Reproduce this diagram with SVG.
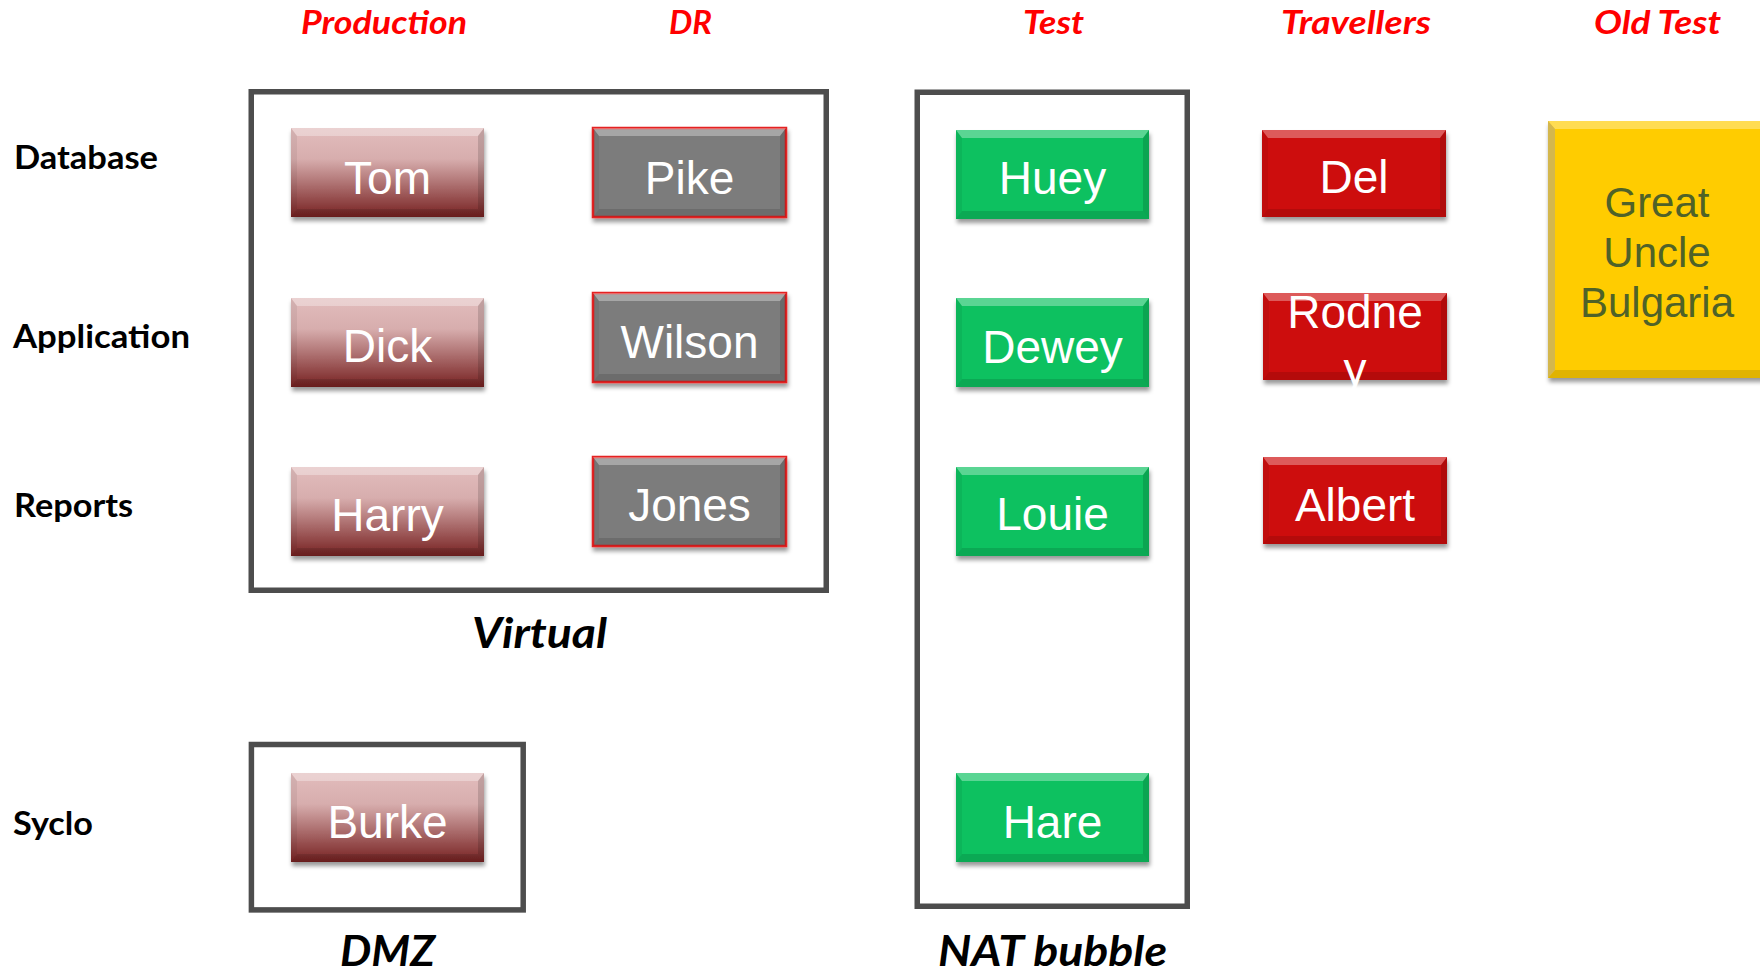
<svg xmlns="http://www.w3.org/2000/svg" xmlns:xlink="http://www.w3.org/1999/xlink" width="1760" height="973" viewBox="0 0 1760 973">
<style>
.hdr{font-family:Lato,"Open Sans","Liberation Sans",sans-serif;font-weight:bold;font-style:italic;font-size:32px;fill:#ff0000}
.row{font-family:Lato,"Open Sans","Liberation Sans",sans-serif;font-weight:bold;font-size:32px;fill:#000}
.cap{font-family:Lato,"Open Sans","Liberation Sans",sans-serif;font-weight:bold;font-style:italic;font-size:42px;fill:#000}
.t{font-family:"Liberation Sans",Arial,sans-serif;font-size:46px;fill:#fff;text-anchor:middle}
.ty{font-family:"Liberation Sans",Arial,sans-serif;font-size:42px;fill:#4f6228;text-anchor:middle}
.frame{fill:none;stroke:#4d4d4d;stroke-width:5.5}
.pink{fill:url(#gPink);filter:url(#sh)}
.grey{fill:#7b7b7b;stroke:#e42222;stroke-width:2.5;filter:url(#sh)}
.green{fill:#0bc160;filter:url(#sh)}
.red{fill:#cd0707;filter:url(#sh)}
.yellow{fill:#ffcc00;filter:url(#sh)}
.bt{fill:#fff;opacity:.32}
.bb{fill:#000;opacity:.12}
.bl{fill:#000;opacity:.06}
.br{fill:#000;opacity:.14}
</style>
<defs>
<linearGradient id="gPink" x1="0" y1="0" x2="0" y2="1">
<stop offset="0" stop-color="#e2bdbd"/>
<stop offset="0.35" stop-color="#d7adad"/>
<stop offset="0.75" stop-color="#9c5757"/>
<stop offset="1" stop-color="#772222"/>
</linearGradient>
<filter id="sh" x="-10%" y="-10%" width="120%" height="130%">
<feDropShadow dx="1" dy="4" stdDeviation="2.2" flood-color="#000" flood-opacity="0.4"/>
</filter>
<g id="bevA">
<polygon class="bt" points="0,0 193,0 187,8 6,8"/>
<polygon class="bb" points="0,89 193,89 187,81 6,81"/>
<polygon class="bl" points="0,0 6,8 6,81 0,89"/>
<polygon class="br" points="193,0 187,8 187,81 193,89"/>
</g>
<g id="bevB">
<polygon class="bt" points="0,0 184,0 178,8 6,8"/>
<polygon class="bb" points="0,87 184,87 178,79 6,79"/>
<polygon class="bl" points="0,0 6,8 6,79 0,87"/>
<polygon class="br" points="184,0 178,8 178,79 184,87"/>
</g>
</defs>
<rect width="1760" height="973" fill="#fff"/>

<g id="headers">
<text class="hdr" x="301" y="34" textLength="166" lengthAdjust="spacingAndGlyphs">Production</text>
<text class="hdr" x="669" y="34" textLength="43" lengthAdjust="spacingAndGlyphs">DR</text>
<text class="hdr" x="1023" y="34" textLength="61" lengthAdjust="spacingAndGlyphs">Test</text>
<text class="hdr" x="1281" y="34" textLength="150" lengthAdjust="spacingAndGlyphs">Travellers</text>
<text class="hdr" x="1594" y="34" textLength="127" lengthAdjust="spacingAndGlyphs">Old Test</text>
</g>
<g id="rows">
<text class="row" x="14" y="169" textLength="144" lengthAdjust="spacingAndGlyphs">Database</text>
<text class="row" x="13" y="348" textLength="177" lengthAdjust="spacingAndGlyphs">Application</text>
<text class="row" x="14" y="517" textLength="119" lengthAdjust="spacingAndGlyphs">Reports</text>
<text class="row" x="13" y="835" textLength="80" lengthAdjust="spacingAndGlyphs">Syclo</text>
</g>

<g id="virtual">
<rect class="frame" x="251.25" y="91.75" width="575" height="498.5"/>
<text class="cap" x="472" y="648" textLength="135" lengthAdjust="spacingAndGlyphs">Virtual</text>
</g>
<g id="dmz">
<rect class="frame" x="251.4" y="744.5" width="271.8" height="165.4"/>
<text class="cap" x="340" y="966" textLength="95" lengthAdjust="spacingAndGlyphs">DMZ</text>
</g>
<g id="nat-bubble">
<rect class="frame" x="917.25" y="92.25" width="270" height="814"/>
<text class="cap" x="938" y="966" textLength="229" lengthAdjust="spacingAndGlyphs">NAT bubble</text>
</g>

<g id="tom"><rect class="pink" x="291" y="128" width="193" height="89"/><use xlink:href="#bevA" x="291" y="128"/><text class="t" x="387.5" y="193.5">Tom</text></g>
<g id="dick"><rect class="pink" x="291" y="298" width="193" height="89"/><use xlink:href="#bevA" x="291" y="298"/><text class="t" x="387.5" y="362">Dick</text></g>
<g id="harry"><rect class="pink" x="291" y="467" width="193" height="89"/><use xlink:href="#bevA" x="291" y="467"/><text class="t" x="387.5" y="530.5">Harry</text></g>
<g id="burke"><rect class="pink" x="291" y="773" width="193" height="89"/><use xlink:href="#bevA" x="291" y="773"/><text class="t" x="387.5" y="838">Burke</text></g>

<g id="pike"><rect class="grey" x="593" y="128" width="193" height="89"/><use xlink:href="#bevA" x="593" y="128"/><text class="t" x="689.5" y="193.5">Pike</text></g>
<g id="wilson"><rect class="grey" x="593" y="293" width="193" height="89"/><use xlink:href="#bevA" x="593" y="293"/><text class="t" x="689.5" y="357.5">Wilson</text></g>
<g id="jones"><rect class="grey" x="593" y="457" width="193" height="89"/><use xlink:href="#bevA" x="593" y="457"/><text class="t" x="689.5" y="521">Jones</text></g>

<g id="huey"><rect class="green" x="956" y="130" width="193" height="89"/><use xlink:href="#bevA" x="956" y="130"/><text class="t" x="1052.5" y="194">Huey</text></g>
<g id="dewey"><rect class="green" x="956" y="298" width="193" height="89"/><use xlink:href="#bevA" x="956" y="298"/><text class="t" x="1052.5" y="362.5">Dewey</text></g>
<g id="louie"><rect class="green" x="956" y="467" width="193" height="89"/><use xlink:href="#bevA" x="956" y="467"/><text class="t" x="1052.5" y="530">Louie</text></g>
<g id="hare"><rect class="green" x="956" y="773" width="193" height="89"/><use xlink:href="#bevA" x="956" y="773"/><text class="t" x="1052.5" y="838">Hare</text></g>

<g id="del"><rect class="red" x="1262" y="130" width="184" height="87"/><use xlink:href="#bevB" x="1262" y="130"/><text class="t" x="1354" y="193">Del</text></g>
<g id="rodney"><rect class="red" x="1263" y="293" width="184" height="87"/><use xlink:href="#bevB" x="1263" y="293"/><text class="t" x="1355" y="328">Rodne</text><text class="t" x="1355" y="385">y</text></g>
<g id="albert"><rect class="red" x="1263" y="457" width="184" height="87"/><use xlink:href="#bevB" x="1263" y="457"/><text class="t" x="1355" y="521">Albert</text></g>

<g id="great-uncle-bulgaria">
<rect class="yellow" x="1548" y="121" width="220" height="257"/>
<polygon class="bt" points="1548,121 1768,121 1762,129 1555,129"/>
<polygon class="bb" points="1548,378 1768,378 1762,370 1555,370"/>
<polygon fill="#b8a880" opacity="0.6" points="1548,121 1555,129 1555,370 1548,378"/>
<text class="ty" x="1657" y="217">Great</text>
<text class="ty" x="1657" y="267">Uncle</text>
<text class="ty" x="1657" y="317">Bulgaria</text>
</g>

<g id="connectors"/>
</svg>
